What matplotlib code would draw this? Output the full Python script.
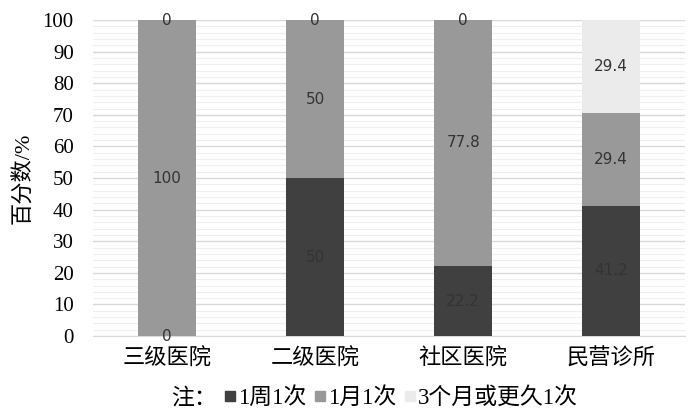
import matplotlib
matplotlib.use("Agg")
import matplotlib.pyplot as plt
from matplotlib.lines import Line2D
from matplotlib.ticker import MultipleLocator
import numpy as np

categories = ["三级医院", "二级医院", "社区医院", "民营诊所"]
series_names = ["1周1次", "1月1次", "3个月或更久1次"]
weekly = [0, 50, 22.2, 41.2]
monthly = [100, 50, 77.8, 29.4]
quarterly = [0, 0, 0, 29.4]
label_text = [
    ["0", "50", "22.2", "41.2"],
    ["100", "50", "77.8", "29.4"],
    ["0", "0", "0", "29.4"],
]

COLORS = ["#404040", "#999999", "#ebebeb"]
SERIF_CJK = ["Liberation Serif", "Noto Sans CJK SC"]

fig = plt.figure(figsize=(7.0, 4.17), dpi=100)
ax = fig.add_axes([0.133, 0.194, 0.846, 0.758])

x = np.arange(len(categories))
bottom = np.zeros(len(categories))
for vals, col, labs in zip([weekly, monthly, quarterly], COLORS, label_text):
    vals = np.array(vals, dtype=float)
    ax.bar(x, vals, 0.39, bottom=bottom, color=col, zorder=3)
    for xi, b, v, t in zip(x, bottom, vals, labs):
        ax.text(xi, b + v / 2, t, ha="center", va="center", fontsize=11,
                color="#333333", family="DejaVu Sans", zorder=4)
    bottom += vals

ax.set_xlim(-0.5, 3.5)
ax.set_ylim(0, 100)
ax.yaxis.set_major_locator(MultipleLocator(10))
ax.yaxis.set_minor_locator(MultipleLocator(2))
ax.grid(axis="y", which="major", color="#d9d9d9", lw=1.0, zorder=0)
ax.grid(axis="y", which="minor", color="#efefef", lw=0.8, zorder=0)
for sp in ["top", "right", "left"]:
    ax.spines[sp].set_visible(False)
ax.spines["bottom"].set_color("#d9d9d9")
ax.tick_params(axis="both", which="both", length=0)
ax.tick_params(axis="y", pad=14)
ax.tick_params(axis="x", pad=9)
ax.set_xticks(x)
ax.set_xticklabels(categories, family=SERIF_CJK, fontsize=16)
for lab in ax.get_yticklabels():
    lab.set_family(SERIF_CJK)
    lab.set_fontsize(15)
ax.set_ylabel("百分数/%", family=SERIF_CJK, fontsize=16, labelpad=6)

handles = [Line2D([], [], linestyle="none", marker=None)]
labels = ["注："]
for col, name in zip(COLORS, series_names):
    handles.append(Line2D([], [], linestyle="none", marker="s",
                          markersize=7, color=col))
    labels.append(name)
fig.legend(handles, labels, loc="center", bbox_to_anchor=(0.525, 0.045),
           ncol=4, frameon=False, handlelength=0.5, handletextpad=0.1,
           columnspacing=0.35, prop={"family": SERIF_CJK, "size": 16.5})

fig.savefig("out.png", dpi=100)
